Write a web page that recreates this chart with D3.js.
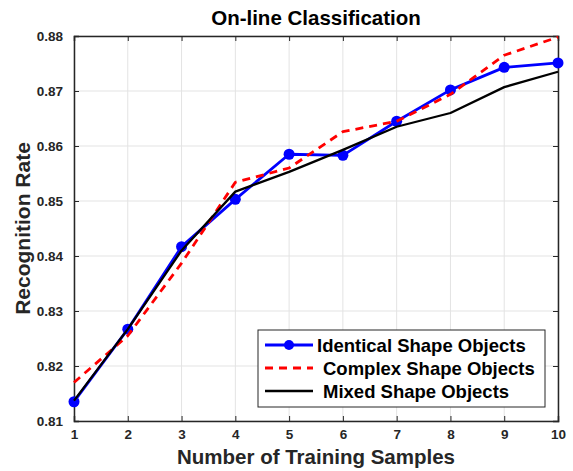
<!DOCTYPE html>
<html>
<head>
<meta charset="utf-8">
<script src="https://cdn.jsdelivr.net/npm/d3@7"></script>
<style>
  body { margin: 0; background: #fff; }
  text { font-family: "Liberation Sans", Arial, sans-serif; font-weight: bold; }
</style>
</head>
<body>
<div id="chart"></div>
<script>
// Training samples and recognition rates
const samples = [1, 2, 3, 4, 5, 6, 7, 8, 9, 10];
const identical = [0.8135, 0.8267, 0.8417, 0.8503, 0.8585, 0.8583, 0.8645, 0.8702, 0.8743, 0.8751];
const complex = [0.8170, 0.8255, 0.8387, 0.8534, 0.8560, 0.8626, 0.8645, 0.8694, 0.8765, 0.8798];
const mixed = [0.8137, 0.8267, 0.8410, 0.8517, 0.8553, 0.8593, 0.8635, 0.8660, 0.8707, 0.8735];
const yTicks = [0.81, 0.82, 0.83, 0.84, 0.85, 0.86, 0.87, 0.88];

const series = [
  { name: "Identical Shape Objects", values: identical, color: "#0000ff", dash: null, width: 2.8, marker: true },
  { name: "Complex Shape Objects", values: complex, color: "#ff0000", dash: "8,6", width: 2.8, marker: false },
  { name: "Mixed Shape Objects", values: mixed, color: "#000000", dash: null, width: 2.3, marker: false },
];

const config = {
  width: 573,
  height: 471,
  margin: { top: 36, right: 15, bottom: 50, left: 74 },
};
const innerW = config.width - config.margin.left - config.margin.right;
const innerH = config.height - config.margin.top - config.margin.bottom;

const svg = d3
  .select("#chart")
  .append("svg")
  .attr("width", config.width)
  .attr("height", config.height);

const g = svg
  .append("g")
  .attr("transform", `translate(${config.margin.left},${config.margin.top})`);

const x = d3.scaleLinear().domain([1, 10]).range([0, innerW]);
const y = d3.scaleLinear().domain([0.81, 0.88]).range([innerH, 0]);

// Grid
g.append("g")
  .selectAll("line")
  .data(samples)
  .join("line")
  .attr("x1", (d) => x(d))
  .attr("x2", (d) => x(d))
  .attr("y1", 0)
  .attr("y2", innerH)
  .attr("stroke", "#e3e3e3")
  .attr("stroke-width", 1);

g.append("g")
  .selectAll("line")
  .data(yTicks)
  .join("line")
  .attr("x1", 0)
  .attr("x2", innerW)
  .attr("y1", (d) => y(d))
  .attr("y2", (d) => y(d))
  .attr("stroke", "#e3e3e3")
  .attr("stroke-width", 1);

// Axes, ticks pointing inside (MATLAB style)
const axisColor = "#262626";
const xAxis = g
  .append("g")
  .attr("transform", `translate(0,${innerH})`)
  .call(d3.axisBottom(x).tickValues(samples).tickSize(-5).tickPadding(8).tickFormat(d3.format("d")));
const xAxisTop = g.append("g").call(d3.axisTop(x).tickValues(samples).tickSize(-5).tickFormat(""));
const yAxis = g
  .append("g")
  .call(d3.axisLeft(y).tickValues(yTicks).tickSize(-5).tickPadding(11).tickFormat(d3.format(".2f")));
const yAxisRight = g
  .append("g")
  .attr("transform", `translate(${innerW},0)`)
  .call(d3.axisRight(y).tickValues(yTicks).tickSize(-5).tickFormat(""));

[xAxis, xAxisTop, yAxis, yAxisRight].forEach((a) => {
  a.select(".domain").attr("stroke", axisColor).attr("stroke-width", 1.5);
  a.selectAll(".tick line").attr("stroke", axisColor);
  a.selectAll(".tick text")
    .attr("fill", axisColor)
    .style("font-size", "13.5px")
    .style("font-family", "'Liberation Sans', Arial, sans-serif")
    .style("font-weight", "bold");
});

// Lines
const line = d3
  .line()
  .x((d, i) => x(samples[i]))
  .y((d) => y(d));

series.forEach((s) => {
  g.append("path")
    .datum(s.values)
    .attr("d", line)
    .attr("fill", "none")
    .attr("stroke", s.color)
    .attr("stroke-width", s.width)
    .attr("stroke-dasharray", s.dash)
    .attr("stroke-linejoin", "round");
  if (s.marker) {
    g.selectAll(null)
      .data(s.values)
      .join("circle")
      .attr("cx", (d, i) => x(samples[i]))
      .attr("cy", (d) => y(d))
      .attr("r", 5.5)
      .attr("fill", s.color);
  }
});

// Title and axis labels
svg.append("text")
  .attr("x", config.margin.left + innerW / 2)
  .attr("y", 25)
  .attr("text-anchor", "middle")
  .style("font-size", "20.5px")
  .attr("fill", "#000")
  .text("On-line Classification");

svg.append("text")
  .attr("x", config.margin.left + innerW / 2)
  .attr("y", 464)
  .attr("text-anchor", "middle")
  .style("font-size", "20.5px")
  .attr("fill", "#262626")
  .text("Number of Training Samples");

svg.append("text")
  .attr("transform", `translate(30,${config.margin.top + innerH / 2}) rotate(-90)`)
  .attr("text-anchor", "middle")
  .style("font-size", "21px")
  .attr("fill", "#262626")
  .text("Recognition Rate");

// Legend
const legend = svg.append("g").attr("transform", "translate(258,330)");
legend.append("rect")
  .attr("width", 287)
  .attr("height", 77)
  .attr("fill", "#fff")
  .attr("stroke", axisColor)
  .attr("stroke-width", 1);

series.forEach((s, i) => {
  const row = legend.append("g").attr("transform", `translate(0,${15 + i * 23})`);
  row.append("line")
    .attr("x1", 7)
    .attr("x2", 55)
    .attr("stroke", s.color)
    .attr("stroke-width", s.width)
    .attr("stroke-dasharray", s.dash);
  if (s.marker) {
    row.append("circle").attr("cx", 31).attr("r", 5).attr("fill", s.color);
  }
  row.append("text")
    .attr("x", i === 0 ? 59 : 65)
    .attr("y", 7)
    .style("font-size", "18.5px")
    .attr("fill", "#000")
    .text(s.name);
});
</script>
</body>
</html>
